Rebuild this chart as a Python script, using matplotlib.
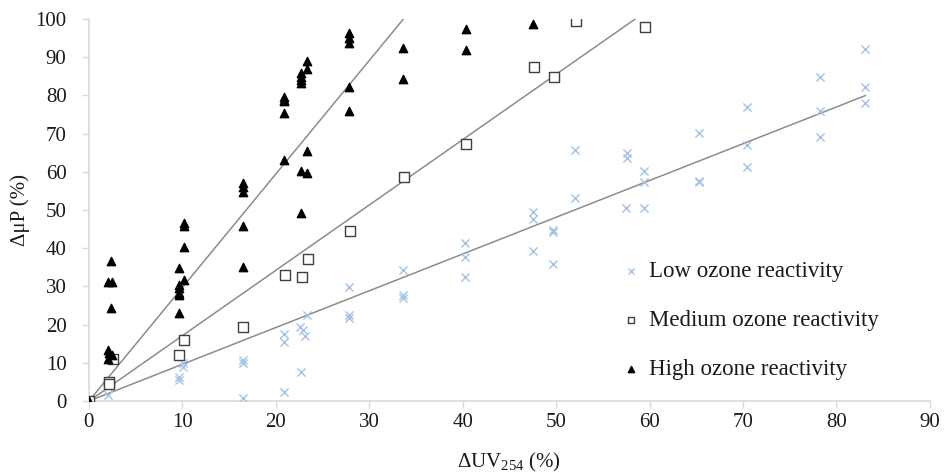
import numpy as np
import matplotlib
matplotlib.use("Agg")
import matplotlib.pyplot as plt

plt.rcParams['font.family'] = ['Liberation Serif', 'DejaVu Serif']
plt.rcParams['mathtext.default'] = 'regular'

# low ozone reactivity (x markers)
low_x = [0, 2.1, 2.1, 9.6, 9.6, 10.1, 10.1, 16.5, 16.5, 16.5,
         20.9, 20.9, 20.9, 22.6, 22.9, 23.1, 22.7, 23.3,
         27.8, 27.8, 27.8, 33.6, 33.6, 33.6, 40.3, 40.3, 40.3,
         47.5, 47.5, 47.5, 49.7, 49.7, 49.7, 52.0, 52.0,
         57.5, 57.6, 57.6, 59.4, 59.4, 59.4,
         65.3, 65.3, 65.3, 70.4, 70.4, 70.4,
         78.2, 78.2, 78.2, 83.1, 83.1, 83.1]
low_y = [0, 3.7, 1.6, 6.4, 5.5, 9.9, 9.0, 10.7, 9.9, 0.8,
         17.5, 15.5, 2.3, 19.4, 18.5, 17.0, 7.7, 22.5,
         29.9, 22.4, 21.7, 34.3, 27.8, 26.9, 41.3, 37.8, 32.4,
         49.4, 47.6, 39.4, 44.8, 44.3, 36.0, 65.7, 53.2,
         50.4, 64.8, 63.5, 60.3, 57.2, 50.4,
         70.1, 57.6, 57.2, 76.9, 67.0, 61.2,
         84.7, 75.8, 69.0, 92.1, 82.1, 77.9]

# medium ozone reactivity (open squares)
med_x = [0, 2.2, 2.2, 2.6, 9.6, 10.2, 16.5, 21.0, 22.8, 23.4,
         27.9, 33.7, 40.4, 47.6, 49.8, 52.1, 59.5]
med_y = [0, 5.1, 4.5, 10.9, 12.0, 16.0, 19.3, 33.0, 32.5, 37.2,
         44.6, 58.7, 67.4, 87.5, 84.7, 99.5, 97.8]

# high ozone reactivity (filled triangles)
high_x = [0, 2.4, 2.1, 2.5, 2.4, 2.1, 2.2, 2.5, 2.1,
          9.6, 9.6, 9.6, 9.6, 9.6, 9.6, 10.2, 10.2, 10.2, 10.2,
          16.5, 16.5, 16.5, 16.5, 16.5,
          20.9, 20.9, 20.9, 20.9, 20.9,
          22.7, 22.7, 22.7, 22.7, 22.7, 22.7,
          23.3, 23.3, 23.3, 23.3,
          27.8, 27.8, 27.8, 27.8, 27.8,
          33.6, 33.6, 40.4, 40.4, 47.5]
high_y = [0, 36.7, 31.2, 31.2, 24.3, 13.4, 12.5, 12.0, 10.9,
          34.7, 30.4, 29.5, 28.2, 27.7, 23.0, 46.5, 45.8, 40.2, 31.8,
          57.0, 56.1, 54.8, 45.9, 35.0,
          79.7, 78.8, 78.4, 75.4, 63.1,
          85.8, 84.9, 84.0, 83.2, 60.3, 49.3,
          89.0, 86.8, 65.5, 59.8,
          96.2, 95.0, 93.8, 82.1, 76.0,
          92.3, 84.2, 97.4, 91.9, 98.8]

# trend lines through the origin (slopes)
low_slope = 0.962
med_slope = 1.71
high_slope = 2.97

x_ticks = list(range(0, 100, 10))
y_ticks = list(range(0, 110, 10))

fig = plt.figure(figsize=(9.45, 4.73), dpi=100)
ax = fig.add_axes([0.094, 0.152, 0.89, 0.808])

line_c = '#8c8c8c'
for xs, k in [(low_x, low_slope), (med_x, med_slope), (high_x, high_slope)]:
    xx = np.array([0, max(xs)])
    ax.plot(xx, k * xx, color=line_c, lw=1.1, zorder=2)

ax.scatter(low_x, low_y, marker='x', s=34, color='#a3c2e6', linewidths=1.0,
           zorder=3, label='Low ozone reactivity')
ax.scatter(med_x, med_y, marker='s', s=44, facecolors='white', edgecolors='#404040',
           linewidths=1.0, zorder=4, label='Medium ozone reactivity')
ax.scatter(high_x, high_y, marker='^', s=36, color='black', zorder=5,
           label='High ozone reactivity')

ax.set_xlim(0, 90)
ax.set_ylim(0, 100)
ax.set_xticks(x_ticks)
ax.set_yticks(y_ticks)

for s in ['top', 'right']:
    ax.spines[s].set_visible(False)
for s in ['left', 'bottom']:
    ax.spines[s].set_color('#d9d9d9')
    ax.spines[s].set_linewidth(1.2)
ax.tick_params(axis='both', colors='#d9d9d9', labelcolor='#1a1a1a',
               labelsize=15, length=5, width=1.0)
ax.tick_params(axis='y', pad=11)

ax.set_xlabel('ΔUV$_{254}$ (%)', fontsize=15, color='#1a1a1a', labelpad=14)
ax.set_ylabel('ΔμP (%)', fontsize=15, color='#1a1a1a', labelpad=4)

leg = ax.legend(loc='upper left', bbox_to_anchor=(0.631, 0.366), frameon=False,
                fontsize=16.5, handlelength=1.0, handletextpad=0.3,
                labelspacing=1.22, markerscale=0.75, borderpad=0,
                borderaxespad=0)
for t in leg.get_texts():
    t.set_color('#1a1a1a')

fig.savefig('out.png', dpi=100)
